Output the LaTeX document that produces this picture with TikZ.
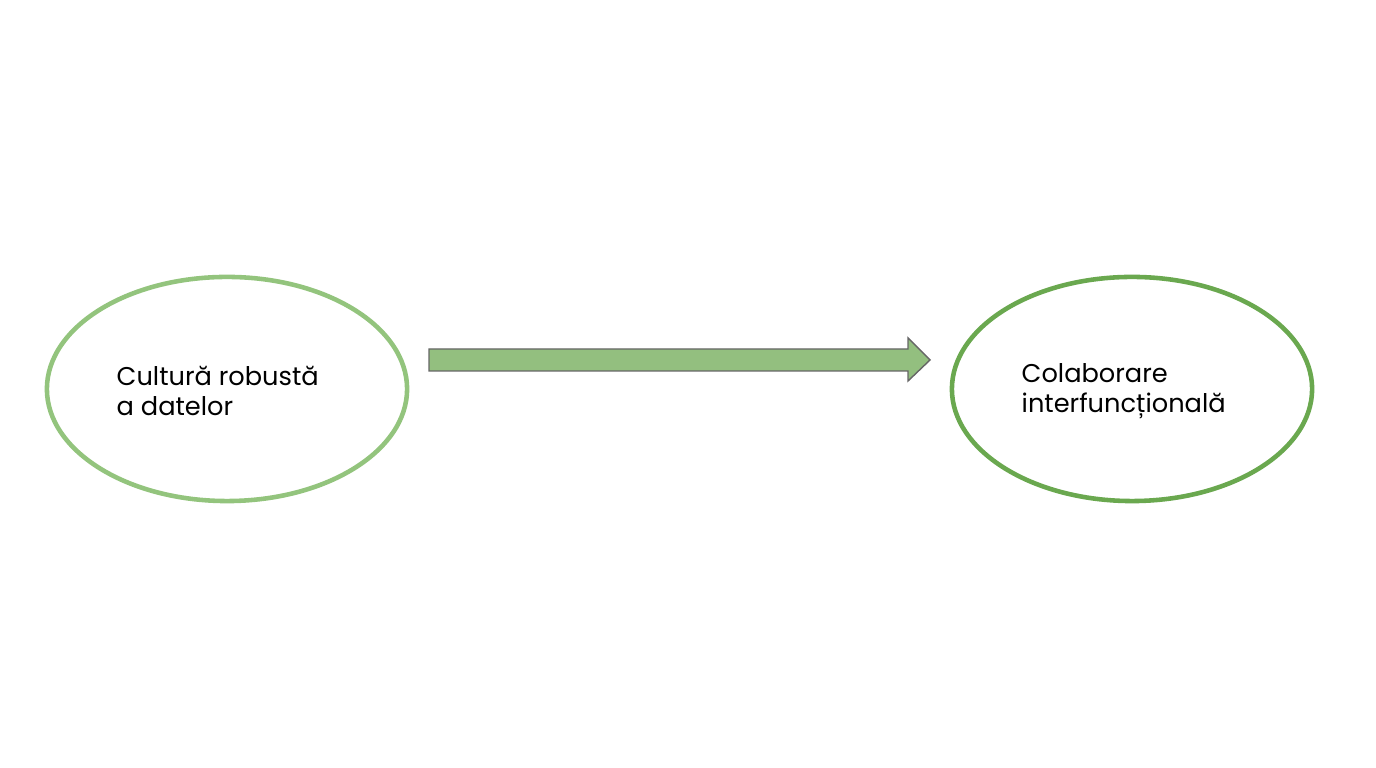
\documentclass[tikz,border=0pt]{standalone}
\usepackage{fontspec}
\setmainfont{Poppins}
\usetikzlibrary{shapes.geometric,positioning}
\definecolor{lightgreen}{HTML}{93C47D}
\definecolor{darkgreen}{HTML}{6AA84F}
\definecolor{arrowfill}{HTML}{93BF7F}
\begin{document}
\begin{tikzpicture}[x=0.01cm,y=-0.01cm,
    topic/.style={ellipse,draw,line width=1.3pt,minimum width=3.6cm,minimum height=2.24cm,inner sep=0pt},
    label text/.style={align=left,font=\fontsize{7.3pt}{8.6pt}\selectfont,anchor=west,inner sep=0pt}]
  \useasboundingbox (0,0) rectangle (1376,768);
  \node[topic,draw=lightgreen] (culture) at (227,389) {};
  \node[topic,draw=darkgreen] (collab) at (1132,389) {};
  \node[label text] at (116,391) {Cultură robustă\\a datelor};
  \node[label text] at (1021,391) {Colaborare\\interfuncțională};
  % block arrow
  \draw[fill=arrowfill,draw=black!60,line width=0.4pt]
    (429,349) -- (908,349) -- (908,338) -- (930,360) -- (908,381) -- (908,371) -- (429,371) -- cycle;
\end{tikzpicture}
\end{document}
